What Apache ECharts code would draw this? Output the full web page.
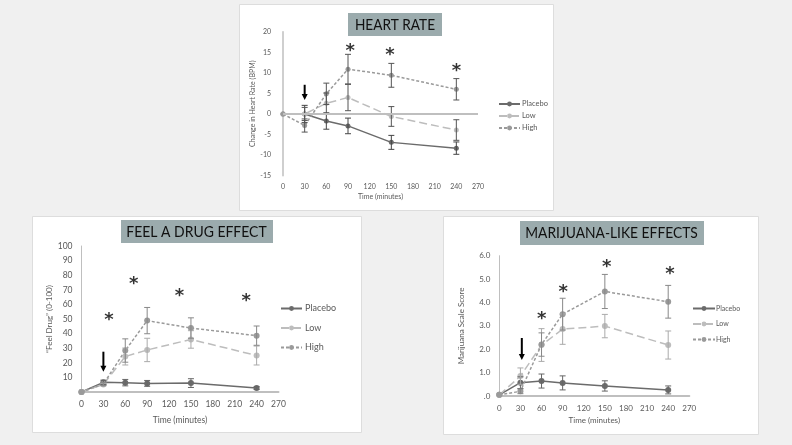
<!DOCTYPE html>
<html><head><meta charset="utf-8">
<script src="https://cdn.jsdelivr.net/npm/echarts@6/dist/echarts.min.js"></script>
<style>html,body{margin:0;padding:0;background:#f0f0f0}#c{width:792px;height:445px}</style>
</head><body><div id="c"></div>
<script>
// ---- data ----
const times = [0, 30, 60, 90, 150, 240];
const seriesNames = ['Placebo', 'Low', 'High'];
const xTicks = [0, 30, 60, 90, 120, 150, 180, 210, 240, 270];

// Heart rate (change in BPM)
const hrPlacebo = [0, 0, -1.7, -2.9, -6.9, -8.3];
const hrPlaceboErr = [0, 2.1, 2.0, 1.9, 1.7, 1.5];
const hrLow = [0, 0, 2.6, 4.0, -0.6, -3.9];
const hrLowErr = [0, 1.6, 2.5, 3.2, 2.4, 2.5];
const hrHigh = [0, -2.8, 4.9, 10.9, 9.4, 6.0];
const hrHighErr = [0, 1.6, 2.6, 3.6, 2.9, 2.6];
const hrStars = [[93, 16.1], [148, 15.1], [240, 11.2]];
const hrArrow = [30, 7.1, 3.4];

// Feel drug (0-100)
const fdPlacebo = [0, 6.6, 6.4, 5.9, 6.1, 2.7];
const fdPlaceboErr = [0, 1.5, 2.2, 2.0, 3.0, 1.0];
const fdLow = [0, 5.2, 24.3, 28.8, 36.0, 25.0];
const fdLowErr = [0, 1.0, 5.8, 8.0, 6.0, 6.5];
const fdHigh = [0, 5.5, 28.4, 48.9, 43.8, 38.6];
const fdHighErr = [0, 1.0, 8.0, 9.0, 7.0, 6.6];
const fdStars = [[37.7, 51.4], [71.6, 76.2], [134.2, 67.8], [225.7, 64.4]];
const fdArrow = [30, 27.6, 13.9];

// Marijuana scale score
const mjPlacebo = [0.05, 0.57, 0.64, 0.56, 0.43, 0.26];
const mjPlaceboErr = [0, 0.25, 0.3, 0.3, 0.22, 0.17];
const mjLow = [0.05, 0.85, 2.18, 2.86, 2.99, 2.18];
const mjLowErr = [0, 0.35, 0.7, 0.65, 0.5, 0.6];
const mjHigh = [0.05, 0.2, 2.2, 3.5, 4.47, 4.03];
const mjHighErr = [0, 0.1, 0.5, 0.68, 0.73, 0.7];
const mjStars = [[60.3, 3.42], [90.9, 4.59], [152.6, 5.64], [242.6, 5.35]];
const mjArrow = [32, 2.48, 1.54];

// ---- styles ----
const colors = { Placebo: '#6b6b6b', Low: '#bdbdbd', High: '#9a9a9a' };
const dashes = { Placebo: 'solid', Low: [8, 4], High: [3, 2] };
const axisGray = '#bfbfbf';
const labelGray = '#595959';
const FONT = 'Lato, "Open Sans", sans-serif';

const chart = echarts.init(document.getElementById('c'));

function lineSeries(name, idx, vals, symSize) {
  return {
    type: 'line', name, xAxisIndex: idx, yAxisIndex: idx,
    data: times.map((t, i) => [t, vals[i]]),
    symbol: 'circle', symbolSize: symSize, showSymbol: true,
    itemStyle: { color: colors[name] },
    lineStyle: { color: colors[name], width: 1.5, type: dashes[name] },
    z: 3, animation: false
  };
}
function errSeries(idx, vals, errs, color) {
  const d = [];
  times.forEach((t, i) => { if (errs[i] > 0) d.push([t, vals[i] - errs[i], vals[i] + errs[i]]); });
  return {
    type: 'custom', xAxisIndex: idx, yAxisIndex: idx, data: d, z: 4, silent: true, animation: false,
    renderItem: (params, api) => {
      const x = api.value(0);
      const p1 = api.coord([x, api.value(2)]);
      const p2 = api.coord([x, api.value(1)]);
      const w = 3, st = { stroke: color, lineWidth: 1 };
      return { type: 'group', children: [
        { type: 'line', shape: { x1: p1[0], y1: p1[1], x2: p2[0], y2: p2[1] }, style: st },
        { type: 'line', shape: { x1: p1[0] - w, y1: p1[1], x2: p1[0] + w, y2: p1[1] }, style: st },
        { type: 'line', shape: { x1: p2[0] - w, y1: p2[1], x2: p2[0] + w, y2: p2[1] }, style: st }
      ] };
    }
  };
}
function starSeries(idx, stars, fs) {
  return {
    type: 'scatter', xAxisIndex: idx, yAxisIndex: idx, data: stars, symbolSize: 0, silent: true,
    label: { show: true, position: 'inside', formatter: '*', fontSize: fs, fontWeight: 'bold', color: '#000', fontFamily: 'DejaVu Sans', offset: [0, fs * 0.2] },
    z: 5, animation: false
  };
}
function arrowSeries(idx, arr) {
  return {
    type: 'custom', xAxisIndex: idx, yAxisIndex: idx, data: [arr], silent: true, animation: false, z: 6,
    renderItem: (params, api) => {
      const a = api.coord([api.value(0), api.value(1)]);
      const b = api.coord([api.value(0), api.value(2)]);
      const hw = 3, hl = 6;
      return { type: 'group', children: [
        { type: 'line', shape: { x1: a[0], y1: a[1], x2: b[0], y2: b[1] - hl + 1 }, style: { stroke: '#000', lineWidth: 2 } },
        { type: 'polygon', shape: { points: [[b[0] - hw, b[1] - hl], [b[0] + hw, b[1] - hl], [b[0], b[1]]] }, style: { fill: '#000' } }
      ] };
    }
  };
}
function xAxisDef(idx, fs, nameGap, showLine) {
  return {
    gridIndex: idx, type: 'value', min: 0, max: 270, interval: 30,
    name: 'Time (minutes)', nameLocation: 'middle', nameGap: nameGap,
    nameTextStyle: { fontSize: fs, color: labelGray, fontFamily: FONT },
    axisLine: { show: showLine, onZero: false, lineStyle: { color: axisGray, width: 2 } },
    axisTick: { show: false }, splitLine: { show: false },
    axisLabel: { fontSize: fs, color: labelGray, fontFamily: FONT, margin: 8 }
  };
}

const option = {
  backgroundColor: '#f0f0f0',
  animation: false,
  graphic: [
    { type: 'rect', shape: { x: 239.5, y: 4.5, width: 314, height: 206 }, style: { fill: '#fff', stroke: '#dddddd', lineWidth: 1 }, z: -10 },
    { type: 'rect', shape: { x: 32.5, y: 216.5, width: 329, height: 216 }, style: { fill: '#fff', stroke: '#dddddd', lineWidth: 1 }, z: -10 },
    { type: 'rect', shape: { x: 443.5, y: 216.5, width: 315, height: 218 }, style: { fill: '#fff', stroke: '#dddddd', lineWidth: 1 }, z: -10 },
    { type: 'rect', shape: { x: 348, y: 13, width: 94, height: 23 }, style: { fill: '#9babad' }, z: 10 },
    { type: 'text', x: 395, y: 25, scaleX: 0.91, style: { text: 'HEART RATE', fontSize: 15, fontFamily: FONT, fill: '#111', align: 'center', verticalAlign: 'middle' }, z: 11 },
    { type: 'rect', shape: { x: 121, y: 220, width: 152, height: 23 }, style: { fill: '#9babad' }, z: 10 },
    { type: 'text', x: 196.5, y: 232, scaleX: 0.93, style: { text: 'FEEL A DRUG EFFECT', fontSize: 15, fontFamily: FONT, fill: '#111', align: 'center', verticalAlign: 'middle' }, z: 11 },
    { type: 'rect', shape: { x: 520, y: 221, width: 184, height: 24 }, style: { fill: '#9babad' }, z: 10 },
    { type: 'text', x: 611.5, y: 233.5, scaleX: 0.92, style: { text: 'MARIJUANA-LIKE EFFECTS', fontSize: 15, fontFamily: FONT, fill: '#111', align: 'center', verticalAlign: 'middle' }, z: 11 }
  ],
  legend: [
    { data: seriesNames, orient: 'vertical', left: 498, top: 100, padding: 0, itemWidth: 21, itemHeight: 6, itemGap: 4,
      textStyle: { fontSize: 7.5, color: labelGray, fontFamily: FONT, padding: [0, 0, 0, -3] }, selectedMode: false },
    { data: seriesNames, orient: 'vertical', left: 280, top: 304, padding: 0, itemWidth: 21, itemHeight: 6, itemGap: 10.5,
      textStyle: { fontSize: 9, color: labelGray, fontFamily: FONT, padding: [0, 0, 0, -2] }, selectedMode: false },
    { data: seriesNames, orient: 'vertical', left: 692, top: 305, padding: 0, itemWidth: 22, itemHeight: 6, itemGap: 8.5,
      textStyle: { fontSize: 7, color: labelGray, fontFamily: FONT, padding: [0, 0, 0, -4] }, selectedMode: false }
  ],
  grid: [
    { left: 283, top: 31.7, width: 195, height: 144 },
    { left: 81.5, top: 246, width: 197, height: 146 },
    { left: 499.3, top: 255.7, width: 190, height: 140.3 }
  ],
  xAxis: [ xAxisDef(0, 7, 18, false), xAxisDef(1, 8.5, 24, true), xAxisDef(2, 8, 20, true) ],
  yAxis: [
    { gridIndex: 0, type: 'value', min: -15, max: 20, interval: 5,
      name: 'Change in Heart Rate (BPM)', nameLocation: 'middle', nameGap: 24,
      nameTextStyle: { fontSize: 7, color: labelGray, fontFamily: FONT },
      axisLine: { show: true, onZero: false, lineStyle: { color: axisGray, width: 1.5 } },
      axisTick: { show: false }, splitLine: { show: false },
      axisLabel: { fontSize: 7, color: labelGray, fontFamily: FONT, margin: 12 } },
    { gridIndex: 1, type: 'value', min: 0, max: 100, interval: 10,
      name: '“Feel Drug” (0-100)', nameLocation: 'middle', nameGap: 26,
      nameTextStyle: { fontSize: 8, color: labelGray, fontFamily: FONT },
      axisLine: { show: true, onZero: false, lineStyle: { color: axisGray, width: 1 } },
      axisTick: { show: false }, splitLine: { show: false },
      axisLabel: { fontSize: 8.5, color: labelGray, fontFamily: FONT, margin: 9, showMinLabel: false } },
    { gridIndex: 2, type: 'value', min: 0, max: 6, interval: 1,
      name: 'Marijuana Scale Score', nameLocation: 'middle', nameGap: 34,
      nameTextStyle: { fontSize: 8, color: labelGray, fontFamily: FONT },
      axisLine: { show: true, onZero: false, lineStyle: { color: axisGray, width: 1 } },
      axisTick: { show: false }, splitLine: { show: false },
      axisLabel: { fontSize: 8, color: labelGray, fontFamily: FONT, margin: 9,
        formatter: v => v === 0 ? '.0' : v.toFixed(1) } }
  ],
  series: [
    { type: 'line', xAxisIndex: 0, yAxisIndex: 0, data: [], silent: true,
      markLine: { silent: true, symbol: 'none', label: { show: false },
        lineStyle: { color: axisGray, width: 2, type: 'solid' }, data: [{ yAxis: 0 }] } },
    lineSeries('Placebo', 0, hrPlacebo, 5),
    lineSeries('Low', 0, hrLow, 5),
    lineSeries('High', 0, hrHigh, 5),
    errSeries(0, hrPlacebo, hrPlaceboErr, '#444'),
    errSeries(0, hrLow, hrLowErr, '#555'),
    errSeries(0, hrHigh, hrHighErr, '#555'),
    starSeries(0, hrStars, 18),
    arrowSeries(0, hrArrow),

    lineSeries('Placebo', 1, fdPlacebo, 6),
    lineSeries('Low', 1, fdLow, 6),
    lineSeries('High', 1, fdHigh, 6),
    errSeries(1, fdPlacebo, fdPlaceboErr, '#666'),
    errSeries(1, fdLow, fdLowErr, '#aaa'),
    errSeries(1, fdHigh, fdHighErr, '#888'),
    starSeries(1, fdStars, 18),
    arrowSeries(1, fdArrow),

    lineSeries('Placebo', 2, mjPlacebo, 6),
    lineSeries('Low', 2, mjLow, 6),
    lineSeries('High', 2, mjHigh, 6),
    errSeries(2, mjPlacebo, mjPlaceboErr, '#666'),
    errSeries(2, mjLow, mjLowErr, '#aaa'),
    errSeries(2, mjHigh, mjHighErr, '#888'),
    starSeries(2, mjStars, 18),
    arrowSeries(2, mjArrow)
  ]
};
chart.setOption(option);
</script></body></html>
